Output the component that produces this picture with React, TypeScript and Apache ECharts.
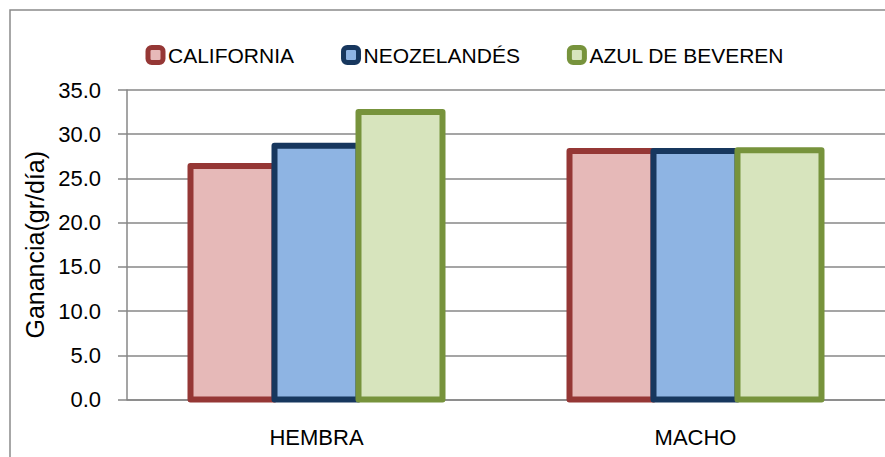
import React, { useEffect, useRef } from "react";
import * as echarts from "echarts";

const categories = ["HEMBRA", "MACHO"];
const seriesNames = ["CALIFORNIA", "NEOZELANDÉS", "AZUL DE BEVEREN"];
const california = [26.4, 28.1];
const neozelandes = [28.7, 28.1];
const azul = [32.5, 28.2];
const yTicks = [0, 5, 10, 15, 20, 25, 30, 35];

const FONT = "'Liberation Sans', Arial, sans-serif";
const fills = ["#E6B9B8", "#8EB4E3", "#D7E4BD"];
const borders = ["#953735", "#17375E", "#77933C"];

// bar width as a fraction of the category band; bars sit side by side, centred in the band
const BAR_FRAC = 84 / 379;

export default function App() {
  const ref = useRef<HTMLDivElement>(null);
  useEffect(() => {
    if (!ref.current) return;
    const chart = echarts.init(ref.current, undefined, { renderer: "svg" });
    const values = [california, neozelandes, azul];
    const n = seriesNames.length;
    chart.setOption({
      animation: false,
      backgroundColor: "#ffffff",
      textStyle: { fontFamily: FONT },
      graphic: [
        {
          type: "rect",
          shape: { x: 10, y: 10, width: 900, height: 500 },
          style: { fill: "none", stroke: "#8a8a8a", lineWidth: 1.5 },
          silent: true,
          z: -1,
        },
      ],
      legend: {
        left: 145.5,
        top: 44.5,
        padding: 0,
        itemWidth: 15,
        itemHeight: 15,
        itemGap: 47,
        icon: "roundRect",
        textStyle: { fontFamily: FONT, fontSize: 21, color: "#000" },
        data: seriesNames.map((nm, i) => ({
          name: nm,
          icon: "roundRect",
          itemStyle: { color: fills[i], borderColor: borders[i], borderWidth: 5 },
        })),
      },
      grid: { left: 127, top: 90, width: 758, bottom: 57.5, containLabel: false },
      xAxis: {
        type: "category",
        data: categories,
        axisLine: { show: true, lineStyle: { color: "#878787", width: 1.5 } },
        axisTick: { show: false },
        axisLabel: { color: "#000", fontSize: 22, fontFamily: FONT, margin: 27 },
      },
      yAxis: {
        type: "value",
        min: 0,
        max: 35,
        interval: 5,
        name: "Ganancia(gr/día)",
        nameLocation: "middle",
        nameGap: 69,
        nameTextStyle: { color: "#000", fontSize: 25, fontFamily: FONT },
        axisLine: { show: true, lineStyle: { color: "#878787", width: 1.5 } },
        axisTick: { show: true, length: 9, lineStyle: { color: "#878787", width: 1.5 } },
        splitLine: { show: true, lineStyle: { color: "#878787", width: 1.5 } },
        axisLabel: {
          color: "#000",
          fontSize: 22,
          fontFamily: FONT,
          margin: 26,
          formatter: (v: number) => (yTicks.includes(v) ? v.toFixed(1) : ""),
        },
      },
      series: seriesNames.map((nm, i) => ({
        name: nm,
        type: "custom",
        encode: { x: 0, y: 1 },
        data: values[i].map((v, c) => [c, v]),
        itemStyle: { color: fills[i], borderColor: borders[i] },
        renderItem: (params: any, api: any) => {
          const cat = api.value(0);
          const val = api.value(1);
          const top = api.coord([cat, val]);
          const base = api.coord([cat, 0]);
          const band = api.size([1, 0])[0];
          const w = band * BAR_FRAC;
          const cx = top[0] + (i - (n - 1) / 2) * w;
          return {
            type: "rect",
            shape: { x: cx - w / 2, y: top[1], width: w, height: base[1] - top[1] },
            style: { fill: fills[i], stroke: borders[i], lineWidth: 6, lineJoin: "round" },
          };
        },
      })),
    });
    return () => chart.dispose();
  }, []);
  return (
    <div
      ref={ref}
      style={{ position: "fixed", left: 0, top: 0, width: 885, height: 457 }}
    />
  );
}
